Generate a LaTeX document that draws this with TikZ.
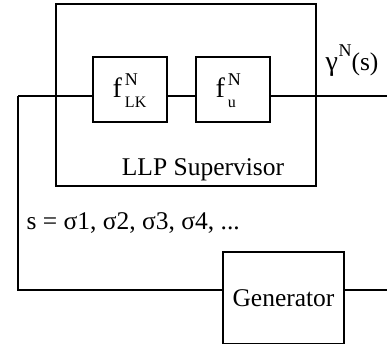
\documentclass[tikz,border=0pt]{standalone}
\usepackage{fontspec}
\setmainfont{Liberation Serif}
\usetikzlibrary{positioning,calc}
\newcommand{\supN}{\rlap{\raisebox{12pt}{\fontsize{18}{18}\selectfont N}}}
\newcommand{\subtxt}[1]{\raisebox{-10pt}{\fontsize{16}{16}\selectfont #1}}

\begin{document}
\begin{tikzpicture}[x=1pt, y=-1pt, line width=1.3pt,
  font=\fontsize{25.5}{30}\selectfont,
  box/.style={draw, inner sep=0pt, align=center}]
  \useasboundingbox (0,0) rectangle (387,343);
  \clip (0,0) rectangle (387,343);
  \node[box, minimum width=260pt, minimum height=182pt] (sup) at (186,95) {};
  \node[anchor=base] (suplabel) at (203,175) {LLP Supervisor};
  \node[box, minimum width=74pt, minimum height=65pt] (flk) at (130,89.5) {};
  \node[box, minimum width=74pt, minimum height=65pt] (fu) at (233,89.5) {};
  \node[anchor=base west, inner sep=0pt, font=\fontsize{28}{32}\selectfont] (flkname) at (112,97) {f\kern3pt\supN\subtxt{LK}};
  \node[anchor=base west, inner sep=0pt, font=\fontsize{28}{32}\selectfont] (funame) at (215,97) {f\kern3pt\supN\subtxt{u}};
  \node[box, minimum width=121pt, minimum height=92pt] (gen) at (283.5,298) {Generator};
  \node[anchor=base west, inner sep=0pt] (gamma) at (325,70) {{\fontsize{28}{30}\selectfont γ}\kern0.5pt\raisebox{14pt}{\fontsize{18}{18}\selectfont N}(s)};
  \node[anchor=west, inner sep=0pt] (seq) at (26,223) {s = σ1, σ2, σ3, σ4, ...};
  \coordinate (in) at (18,96);
  \coordinate (out) at (387,96);
  \coordinate (corner) at (18,290);
  \coordinate (genout) at (387,290);
  \draw (in) -- (in -| flk.west);
  \draw (flk.east |- in) -- (fu.west |- in);
  \draw (fu.east |- in) -- (out);
  \draw (in) -- (corner) -- (corner -| gen.west);
  \draw (gen.east |- genout) -- (genout);
\end{tikzpicture}
\end{document}
